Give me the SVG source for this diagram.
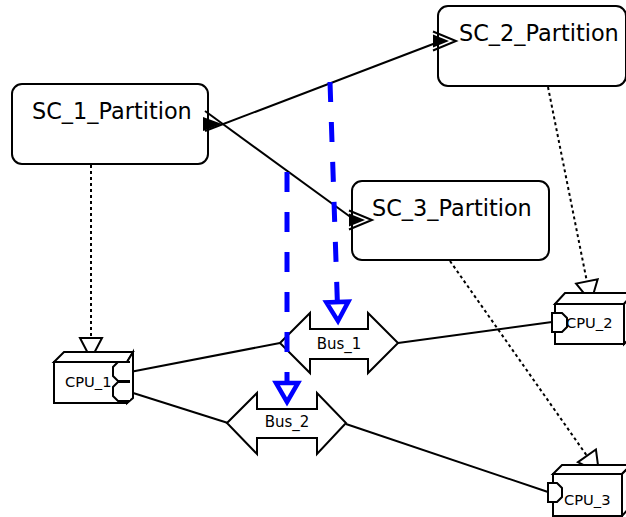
<svg xmlns="http://www.w3.org/2000/svg" xmlns:xlink="http://www.w3.org/1999/xlink" width="626" height="517" viewBox="0 0 626 517">
<style>
.box{fill:#fff;stroke:#000;stroke-width:2}
.ln{fill:none;stroke:#000;stroke-width:2}
.dot{fill:none;stroke:#000;stroke-width:2;stroke-dasharray:3 3}
.blue{fill:none;stroke:#0000ff;stroke-width:5;stroke-dasharray:20 20}
.lbl{font-family:"DejaVu Sans",sans-serif;font-size:22.4px;fill:#000}
.bl{font-family:"DejaVu Sans",sans-serif;font-size:15px;fill:#000;text-anchor:middle}
.cl{font-family:"DejaVu Sans",sans-serif;font-size:14.7px;fill:#000}
.port{fill:#fff;stroke:#000;stroke-width:2}
</style>
<defs>
<marker id="hollow" viewBox="-30 -20 40 40" markerWidth="40" markerHeight="40" markerUnits="userSpaceOnUse" refX="0" refY="0" orient="auto">
<path d="M0,0 L-21,-11 L-21,11 Z" fill="#fff" stroke="#000" stroke-width="2"/>
</marker>
<marker id="bluehead" viewBox="-30 -20 40 40" markerWidth="40" markerHeight="40" markerUnits="userSpaceOnUse" refX="0" refY="0" orient="auto">
<path d="M0,0 L-19,-11 L-19,11 Z" fill="#fff" stroke="#0000ff" stroke-width="4.5" stroke-linejoin="miter"/>
</marker>
<g id="allochead">
<path d="M-23,-9.5 L0,0 L-23,9.5" fill="none" stroke="#000" stroke-width="2"/>
<path d="M-23,-6.5 L-23,6.5 L-7,0 Z" fill="#000"/>
</g>
</defs>

<g id="SC_1_Partition">
<rect class="box" x="12" y="84" width="196" height="80" rx="10"/>
<text class="lbl" x="32" y="119">SC_1_Partition</text>
</g>
<g id="SC_2_Partition">
<rect class="box" x="438" y="6" width="188" height="80" rx="10"/>
<text class="lbl" x="459" y="41">SC_2_Partition</text>
</g>
<g id="SC_3_Partition">
<rect class="box" x="352" y="181" width="197" height="79" rx="10"/>
<text class="lbl" x="372" y="216">SC_3_Partition</text>
</g>

<g id="connectors">
<line class="ln" x1="205" y1="131" x2="441" y2="41"/>
<line class="ln" x1="205" y1="111" x2="356" y2="221"/>
<path d="M203,117 L203,131 L222,124 Z" fill="#000"/>
<use xlink:href="#allochead" transform="translate(456,41)"/>
<use xlink:href="#allochead" transform="translate(372,220)"/>
<line class="dot" x1="91" y1="165" x2="91" y2="359" marker-end="url(#hollow)"/>
<line class="dot" x1="548" y1="87" x2="591" y2="302" marker-end="url(#hollow)"/>
<line class="dot" x1="450" y1="261" x2="599" y2="473" marker-end="url(#hollow)"/>
<line class="ln" x1="280" y1="343" x2="130" y2="372"/>
<line class="ln" x1="228" y1="423" x2="130" y2="392"/>
<line class="ln" x1="398" y1="343" x2="552" y2="322"/>
<line class="ln" x1="346" y1="424" x2="548" y2="492"/>
</g>

<g id="Bus_1">
<path class="box" d="M280,343 L310,313 L310,329 L368,329 L368,313 L398,343 L368,373 L368,359 L310,359 L310,373 Z"/>
<text class="bl" x="339" y="349">Bus_1</text>
</g>
<g id="Bus_2">
<path class="box" d="M227,423 L257,393 L257,409 L317,409 L317,393 L346,423 L317,454 L317,438 L257,438 L257,454 Z"/>
<text class="bl" x="287" y="427">Bus_2</text>
</g>

<g id="CPU_1">
<path class="box" d="M54,362 L64,352 L133,352 L127,362 Z"/>
<path class="box" d="M127,362 L133,352 L133,398 L127,403 Z"/>
<rect class="box" x="54" y="362" width="73" height="41"/>
<text class="cl" x="65" y="387">CPU_1</text>
<path class="port" d="M130,362 L118,362 L113,367 L113,376 L118,381 L130,381"/>
<path class="port" d="M130,382 L118,382 L113,387 L113,396 L118,401 L130,401"/>
</g>
<g id="CPU_2">
<path class="box" d="M555,304 L565,293 L634,293 L624,304 Z"/>
<path class="box" d="M624,304 L634,293 L634,334 L624,344 Z"/>
<rect class="box" x="555" y="304" width="69" height="40"/>
<path class="port" d="M552,313 L562,313 L567,318 L567,327 L562,332 L552,332 Z"/>
<text class="cl" x="566" y="328">CPU_2</text>
</g>
<g id="CPU_3">
<path class="box" d="M553,474 L562,465 L631,465 L622,474 Z"/>
<path class="box" d="M622,474 L631,465 L631,506 L622,516 Z"/>
<rect class="box" x="553" y="474" width="69" height="42"/>
<path class="port" d="M548,483 L557,483 L562,488 L562,497 L557,502 L548,502 Z"/>
<text class="cl" x="564" y="505">CPU_3</text>
</g>

<g id="blue-connectors">
<line class="blue" x1="330" y1="82" x2="338" y2="321" marker-end="url(#bluehead)"/>
<line class="blue" x1="287" y1="172" x2="287" y2="402" marker-end="url(#bluehead)"/>
</g>
</svg>
